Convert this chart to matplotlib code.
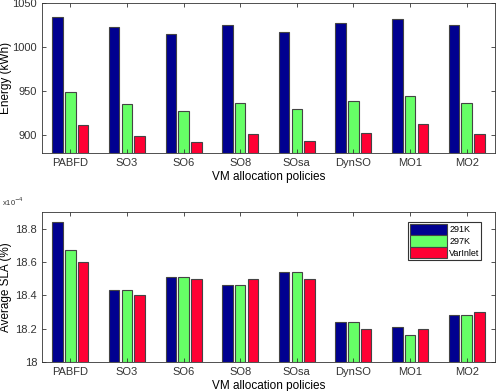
import matplotlib.pyplot as plt
import numpy as np

policies = ['PABFD', 'SO3', 'SO6', 'SO8', 'SOsa', 'DynSO', 'MO1', 'MO2']
series = ['291K', '297K', 'VarInlet']
colors = ['#000090', '#66ff66', '#ff0033']

energy_291 = [1034, 1023, 1015, 1025, 1017, 1027, 1032, 1025]
energy_297 = [949, 935, 928, 937, 930, 939, 945, 937]
energy_var = [912, 899, 893, 901, 894, 903, 913, 901]

sla_291 = [18.84, 18.43, 18.51, 18.46, 18.54, 18.24, 18.21, 18.28]
sla_297 = [18.67, 18.43, 18.51, 18.46, 18.54, 18.24, 18.16, 18.28]
sla_var = [18.60, 18.40, 18.50, 18.50, 18.50, 18.20, 18.20, 18.30]

plt.rcParams['font.family'] = ['Liberation Sans', 'DejaVu Sans']

fig = plt.figure(figsize=(4.98, 3.91), dpi=100)
ax1 = fig.add_axes([42 / 498, 1 - 153 / 391, 453 / 498, 150 / 391])
ax2 = fig.add_axes([42 / 498, 1 - 362 / 391, 453 / 498, 150 / 391])

x = np.arange(1, len(policies) + 1)
offset = 0.225
width = 0.185


def draw(ax, data, bottom, ylim, yticks, ylabel):
    for i, vals in enumerate(data):
        h = np.array(vals) - bottom
        ax.bar(x + (i - 1) * offset, h, width, bottom=bottom, color=colors[i],
               edgecolor='#444444', linewidth=0.8, label=series[i])
    ax.set_xlim(0.5, 8.5)
    ax.set_ylim(*ylim)
    ax.set_yticks(yticks)
    ax.set_xticks(x)
    ax.set_xticklabels(policies)
    ax.tick_params(direction='in', top=True, right=True, labelsize=8,
                   colors='#333333', length=3, width=0.6)
    for s in ax.spines.values():
        s.set_color('#333333')
        s.set_linewidth(0.6)
    ax.set_xlabel('VM allocation policies', fontsize=8.5, labelpad=2)
    ax.set_ylabel(ylabel, fontsize=8.5)
    ax.yaxis.set_label_coords(-0.066, 0.5)


draw(ax1, [energy_291, energy_297, energy_var], 880, (880, 1050),
     [900, 950, 1000, 1050], 'Energy (kWh)')
draw(ax2, [sla_291, sla_297, sla_var], 18, (18, 18.9),
     [18, 18.2, 18.4, 18.6, 18.8], 'Average SLA (%)')
ax2.set_yticklabels(['18', '18.2', '18.4', '18.6', '18.8'])
fig.text(2 / 498, 1 - 202 / 391, r'x10$^{-4}$', fontsize=5.5, va='center', color='#333333')

leg = ax2.legend(loc='upper right', bbox_to_anchor=(0.97, 0.935), fontsize=6.5,
                 handlelength=4.2, handleheight=1.6, handletextpad=0.2,
                 labelspacing=0.0, borderpad=0.2, borderaxespad=0.0,
                 fancybox=False, framealpha=1)
leg.get_frame().set_edgecolor('#333333')
leg.get_frame().set_linewidth(0.8)

fig.savefig('out.png', dpi=100)
